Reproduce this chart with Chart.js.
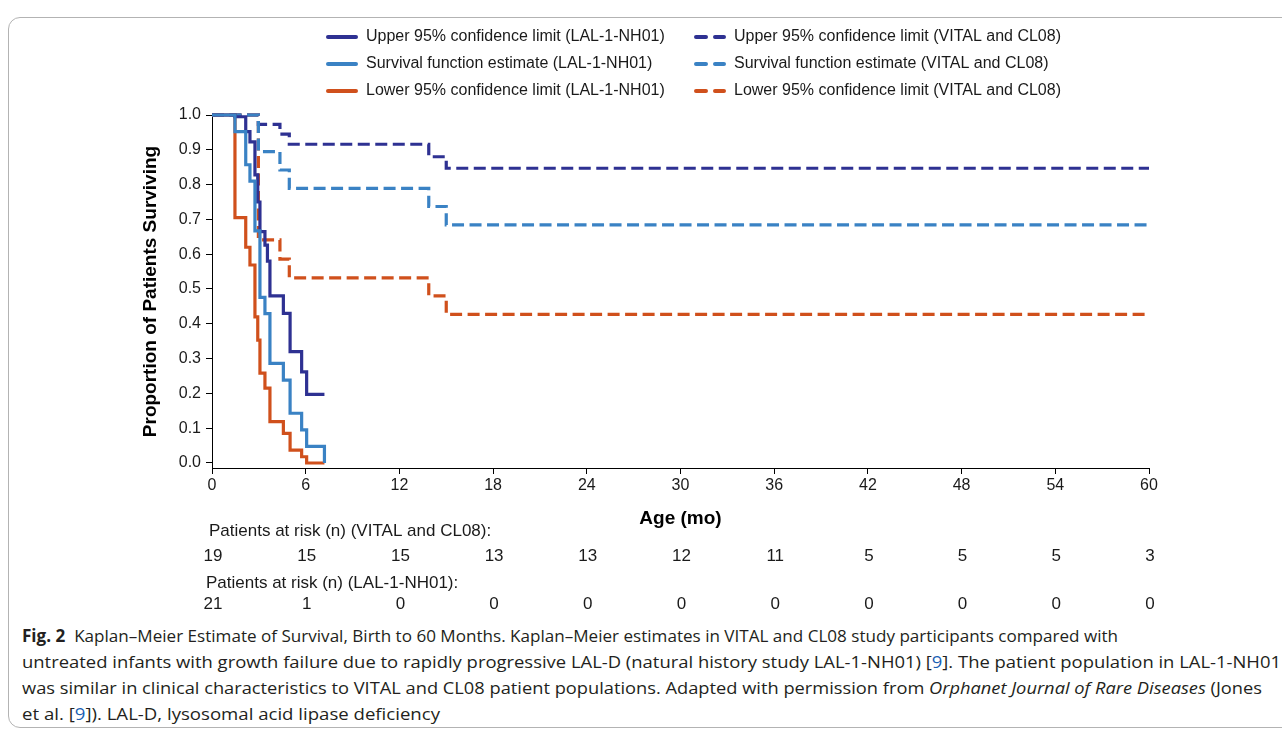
<!DOCTYPE html>
<html><head><meta charset="utf-8">
<script src="https://cdn.jsdelivr.net/npm/chart.js@4.4.0/dist/chart.umd.min.js"></script>
<style>
html,body{margin:0;padding:0;background:#fff;width:1282px;height:737px;overflow:hidden;}
#frame{position:absolute;left:8px;top:17px;width:1300px;height:711px;border:1.5px solid #b3b3b3;border-radius:12px;box-sizing:border-box;}
#wrap{position:absolute;left:0;top:0;width:1282px;height:620px;}
#caption{position:absolute;left:22px;top:623px;font-family:'Open Sans','Noto Sans',sans-serif;font-size:17px;line-height:26px;color:#231f20;white-space:nowrap;}
#caption .row{height:26px;}
#caption .ln{display:inline-block;transform-origin:0 50%;}
#caption b{font-weight:700;}
.ref{color:#1a5fb4;}
</style></head>
<body>
<div id="frame"></div>
<div id="wrap"><canvas id="c" width="1282" height="620"></canvas></div>
<div id="caption">
<div class="row"><span class="ln" id="l1"><b>Fig. 2</b>&nbsp; Kaplan–Meier Estimate of Survival, Birth to 60 Months. Kaplan–Meier estimates in VITAL and CL08 study participants compared with</span></div>
<div class="row"><span class="ln" id="l2">untreated infants with growth failure due to rapidly progressive LAL-D (natural history study LAL-1-NH01) [<span class="ref">9</span>]. The patient population in LAL-1-NH01</span></div>
<div class="row"><span class="ln" id="l3">was similar in clinical characteristics to VITAL and CL08 patient populations. Adapted with permission from <i>Orphanet Journal of Rare Diseases</i> (Jones</span></div>
<div class="row"><span class="ln" id="l4">et al. [<span class="ref">9</span>]). LAL-D, lysosomal acid lipase deficiency</span></div>
</div>
<script>
// ---------- data ----------
const xTicks = [0, 6, 12, 18, 24, 30, 36, 42, 48, 54, 60];
const yTicks = [0, 0.1, 0.2, 0.3, 0.4, 0.5, 0.6, 0.7, 0.8, 0.9, 1.0];

const lalTimes    = [0, 1.47, 2.16, 2.43, 2.75, 2.93, 3.07, 3.39, 3.55, 3.71, 4.57, 5.0, 5.74, 6.06, 7.2];
const lalUpper    = [1, 0.995, 0.952, 0.923, 0.828, 0.75, 0.665, 0.626, 0.58, 0.48, 0.43, 0.32, 0.262, 0.197, 0.197];
const lalSurvival = [1, 0.952, 0.857, 0.81, 0.667, 0.667, 0.476, 0.429, 0.429, 0.286, 0.238, 0.143, 0.095, 0.048, 0];
const lalLower    = [1, 0.705, 0.62, 0.569, 0.42, 0.353, 0.258, 0.215, 0.215, 0.119, 0.085, 0.037, 0.018, 0, 0];

const vitalTimes    = [0, 2.97, 4.35, 4.95, 13.88, 15.0, 60];
const vitalUpper    = [1, 0.973, 0.945, 0.916, 0.88, 0.847, 0.847];
const vitalSurvival = [1, 0.895, 0.842, 0.789, 0.737, 0.684, 0.684];
const vitalLower    = [1, 0.641, 0.586, 0.532, 0.48, 0.427, 0.427];

const atRiskVital = [19, 15, 15, 13, 13, 12, 11, 5, 5, 5, 3];
const atRiskLal   = [21, 1, 0, 0, 0, 0, 0, 0, 0, 0, 0];

const seriesLabels = [
  'Upper 95% confidence limit (LAL-1-NH01)',
  'Survival function estimate (LAL-1-NH01)',
  'Lower 95% confidence limit (LAL-1-NH01)',
  'Upper 95% confidence limit (VITAL and CL08)',
  'Survival function estimate (VITAL and CL08)',
  'Lower 95% confidence limit (VITAL and CL08)'
];
const atRiskTitles = ['Patients at risk (n) (VITAL and CL08):', 'Patients at risk (n) (LAL-1-NH01):'];

// ---------- styles ----------
const NAVY = '#2e3192', BLUE = '#3a82c4', ORANGE = '#d0501c';
const DASH = [12, 5.5];
const FONT = "'Liberation Sans', Arial, Helvetica, sans-serif";

function pts(t, v) { return t.map((x, i) => ({ x: x, y: v[i] })); }
function ds(label, t, v, color, dashed, order) {
  return {
    label: label, data: pts(t, v), borderColor: color, backgroundColor: color,
    borderWidth: 3.2, borderDash: dashed ? DASH : [], stepped: 'before',
    pointRadius: 0, fill: false, clip: false, order: order, borderCapStyle: 'butt'
  };
}

const datasets = [
  ds(seriesLabels[0], lalTimes, lalUpper, NAVY, false, 1),
  ds(seriesLabels[1], lalTimes, lalSurvival, BLUE, false, 0),
  ds(seriesLabels[2], lalTimes, lalLower, ORANGE, false, 2),
  ds(seriesLabels[3], vitalTimes, vitalUpper, NAVY, true, 4),
  ds(seriesLabels[4], vitalTimes, vitalSurvival, BLUE, true, 3),
  ds(seriesLabels[5], vitalTimes, vitalLower, ORANGE, true, 5)
];

// legend + at-risk table plugin
const overlay = {
  id: 'overlay',
  afterDraw(chart) {
    const ctx = chart.ctx, xs = chart.scales.x;
    ctx.save();
    const colX = [326, 694], rowY = [37, 64, 91];
    chart.data.datasets.forEach((d, i) => {
      const c = Math.floor(i / 3), r = i % 3;
      const x0 = colX[c], y = rowY[r];
      ctx.beginPath();
      ctx.lineWidth = 4;
      ctx.lineCap = 'round';
      ctx.strokeStyle = d.borderColor;
      ctx.setLineDash(d.borderDash.length ? [10, 9] : []);
      ctx.moveTo(x0 + 2, y); ctx.lineTo(x0 + 30, y); ctx.stroke();
      ctx.setLineDash([]);
      ctx.fillStyle = '#1a1a1a';
      ctx.font = '16px ' + FONT;
      ctx.textAlign = 'left'; ctx.textBaseline = 'middle';
      ctx.fillText(d.label, x0 + 40, y);
    });
    // at-risk table
    ctx.fillStyle = '#1a1a1a';
    ctx.font = '17px ' + FONT;
    ctx.textBaseline = 'middle';
    ctx.textAlign = 'left';
    ctx.fillText(atRiskTitles[0], 209, 531);
    ctx.fillText(atRiskTitles[1], 206, 583);
    ctx.textAlign = 'center';
    xTicks.forEach((t, i) => {
      const px = xs.getPixelForValue(t);
      ctx.fillText(String(atRiskVital[i]), px + 1, 556);
      ctx.fillText(String(atRiskLal[i]), px + 1, 604);
    });
    ctx.restore();
  }
};

Chart.defaults.font.family = FONT;
Chart.defaults.color = '#1a1a1a';

new Chart(document.getElementById('c'), {
  type: 'line',
  data: { datasets: datasets },
  options: {
    responsive: false, animation: false, devicePixelRatio: 1,
    layout: { padding: { left: 139, right: 133, top: 115, bottom: 90 } },
    plugins: { legend: { display: false }, tooltip: { enabled: false } },
    scales: {
      x: {
        type: 'linear', min: 0, max: 60,
        afterBuildTicks: s => { s.ticks = xTicks.map(v => ({ value: v })); },
        afterFit: s => { s.height = 62; },
        ticks: { font: { size: 16 }, color: '#1a1a1a', padding: 2, maxRotation: 0, callback: v => String(v) },
        grid: { drawOnChartArea: false, drawTicks: true, tickLength: 6, tickColor: '#000', lineWidth: 1 },
        border: { display: true, color: '#000', width: 1 },
        title: { display: true, text: 'Age (mo)', font: { size: 19, weight: 'bold' }, color: '#000', padding: 0 }
      },
      y: {
        type: 'linear', min: -0.0144, max: 1.0,
        afterBuildTicks: s => { s.ticks = yTicks.map(v => ({ value: v })); },
        afterFit: s => { s.width = 73; },
        ticks: { font: { size: 16 }, color: '#1a1a1a', padding: 5, callback: v => Number(v).toFixed(1) },
        grid: { drawOnChartArea: false, drawTicks: true, tickLength: 6, tickColor: '#000', lineWidth: 1 },
        border: { display: true, color: '#000', width: 1 },
        title: { display: true, text: 'Proportion of Patients Surviving', font: { size: 19, weight: 'bold' }, color: '#000', padding: 0 }
      }
    }
  },
  plugins: [overlay]
});

// caption: fit each line to the width it has in the figure
const captionWidths = { l1: 1096, l2: 1259, l3: 1240, l4: 418 };
function fitCaption() {
  Object.keys(captionWidths).forEach(id => {
    const el = document.getElementById(id);
    el.style.transform = 'none';
    const w = el.getBoundingClientRect().width;
    el.style.transform = 'scaleX(' + (captionWidths[id] / w) + ')';
  });
}
fitCaption();
</script>
</body></html>
